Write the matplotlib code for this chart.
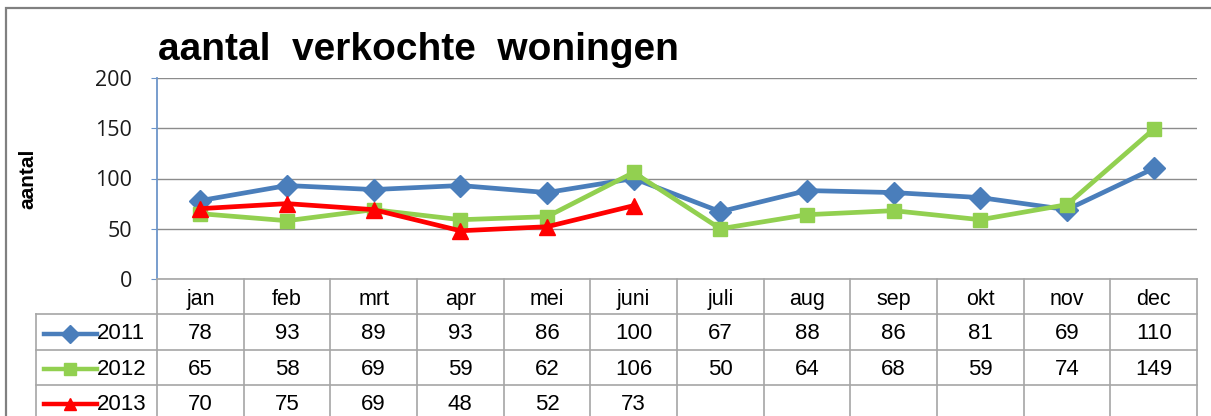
import numpy as np
import matplotlib
matplotlib.use('Agg')
from matplotlib import pyplot as plt
from matplotlib.patches import Rectangle

# Data
months = ['jan', 'feb', 'mrt', 'apr', 'mei', 'juni', 'juli', 'aug', 'sep', 'okt', 'nov', 'dec']
years = ['2011', '2012', '2013']
v2011 = [78, 93, 89, 93, 86, 100, 67, 88, 86, 81, 69, 110]
v2012 = [65, 58, 69, 59, 62, 106, 50, 64, 68, 59, 74, 149]
v2013 = [70, 75, 69, 48, 52, 73]
yticks = [0, 50, 100, 150, 200]

colors = ['#4a7ebb', '#92d050', '#ff0000']
markers = ['D', 's', '^']
msizes = [11, 10, 11]
series = [v2011, v2012, v2013]

W, H = 1211, 416
plt.rcParams['font.family'] = ['Liberation Sans', 'DejaVu Sans']


def box(x0, y0, x1, y1):
    # pixel box (top-left origin) -> figure fraction rect
    return [x0 / W, 1 - y1 / H, (x1 - x0) / W, (y1 - y0) / H]


fig = plt.figure(figsize=(W / 100, H / 100), dpi=100)
fig.patches.append(Rectangle((6 / W, -0.1), 1.2, 1 - 8 / H + 0.1, transform=fig.transFigure,
                             fill=False, ec='#808080', lw=1.6))

# Line chart
ax = fig.add_axes(box(157, 78, 1197, 279))
x = np.arange(len(months))
for vals, c, m, ms in zip(series, colors, markers, msizes):
    ax.plot(x[:len(vals)], vals, color=c, lw=3.4, marker=m, markersize=ms,
            markeredgecolor=c, zorder=3, clip_on=False)
ax.set_xlim(-0.5, 11.5)
ax.set_ylim(0, 200)
ax.set_yticks(yticks)
ax.set_xticks([])
ax.tick_params(axis='y', labelsize=15.5, length=4, color='#6d95c9', pad=14)
for lab in ax.get_yticklabels():
    lab.set_family(['Open Sans', 'DejaVu Sans'])
    lab.set_color('#1a1a1a')
ax.yaxis.grid(True, color='#8c8c8c', lw=1.0)
ax.set_axisbelow(True)
for s in ['top', 'right', 'bottom']:
    ax.spines[s].set_visible(False)
ax.spines['left'].set_color('#6d95c9')
ax.spines['left'].set_linewidth(1.3)
ax.set_ylabel('aantal', fontsize=15, fontweight='bold')
ax.yaxis.set_label_coords((37 - 157) / 1040, 0.5)

fig.text(158 / W, 1 - 60 / H, 'aantal  verkochte  woningen', fontsize=28, fontweight='bold',
         ha='left', va='baseline')

# Data table below the chart
rowh = 35.3
colw = (1197 - 157) / 12
xl = -0.5 - (157 - 36) / colw
tab = fig.add_axes(box(36, 279, 1197, 279 + 4 * rowh))
tab.set_xlim(xl, 11.5)
tab.set_ylim(4, 0)
tab.axis('off')
gc = '#a6a6a6'
for k in range(13):
    tab.plot([k - 0.5, k - 0.5], [0, 4], color=gc, lw=1.2, clip_on=False)
tab.plot([xl, xl], [1, 4], color=gc, lw=1.2, clip_on=False)
tab.plot([-0.5, 11.5], [0, 0], color=gc, lw=1.2, clip_on=False)
for r in range(1, 5):
    tab.plot([xl, 11.5], [r, r], color=gc, lw=1.2, clip_on=False)

for i, mth in enumerate(months):
    tab.text(i, 0.58, mth, ha='center', va='center', fontsize=15.5)
for r, (yr, vals, c, m, ms) in enumerate(zip(years, series, colors, markers, msizes)):
    yy = r + 1.55
    tab.plot([xl + 0.09, xl + 0.7], [yy, yy], color=c, lw=3.2, clip_on=False)
    tab.plot([xl + 0.395], [yy], color=c, marker=m, markersize=ms - 2, clip_on=False)
    tab.text(xl + 0.7, yy, yr, ha='left', va='center', fontsize=16)
    for i, v in enumerate(vals):
        tab.text(i, yy, str(v), ha='center', va='center', fontsize=16)

fig.savefig('out.png', dpi=100)
